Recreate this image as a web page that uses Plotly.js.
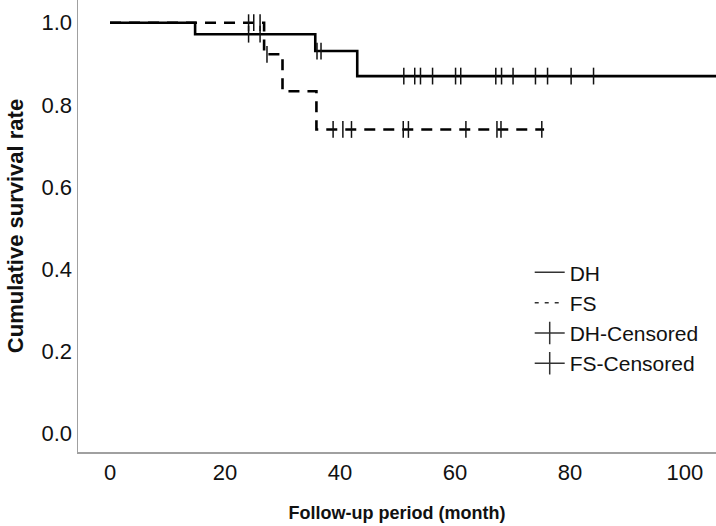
<!DOCTYPE html>
<html>
<head>
<meta charset="utf-8">
<script src="https://cdn.plot.ly/plotly-3.0.1.min.js"></script>
<style>html,body{margin:0;padding:0;background:#fff;}#chart{width:716px;height:526px;}</style>
</head>
<body>
<div id="chart"></div>
<script>
// Kaplan-Meier step data (time in months, cumulative survival)
var dhStepTime = [0, 14.8, 35.7, 43.0, 110];
var dhSurv     = [1.0, 0.972, 0.931, 0.870, 0.870];
var fsStepTime = [0, 26.8, 30.0, 35.9, 75.5];
var fsSurv     = [1.0, 0.923, 0.833, 0.740, 0.740];

// Censored observations
var dhCensTime = [24.1, 26.1, 36.0, 36.7, 51.1, 53.0, 54.0, 56.1, 60.1, 61.0, 67.1, 68.1, 70.1, 74.0, 76.1, 80.2, 84.1];
var dhCensSurv = [0.972, 0.972, 0.931, 0.931, 0.870, 0.870, 0.870, 0.870, 0.870, 0.870, 0.870, 0.870, 0.870, 0.870, 0.870, 0.870, 0.870];
var fsCensTime = [24.1, 25.0, 26.1, 27.3, 38.8, 40.5, 42.0, 51.0, 51.9, 61.9, 67.3, 68.0, 75.1];
var fsCensSurv = [1.0, 1.0, 1.0, 0.923, 0.740, 0.740, 0.740, 0.740, 0.740, 0.740, 0.740, 0.740, 0.740];

var legendNames = ['DH', 'FS', 'DH-Censored', 'FS-Censored'];
var xTicks = [0, 20, 40, 60, 80, 100];
var yTicks = [0.0, 0.2, 0.4, 0.6, 0.8, 1.0];

var FONT = 'Liberation Sans, Arial, Helvetica, sans-serif';

var traces = [
  {x: dhStepTime, y: dhSurv, mode: 'lines', line: {shape: 'hv', color: '#000', width: 2.6}, showlegend: false, hoverinfo: 'skip'},
  {x: fsStepTime, y: fsSurv, mode: 'lines', line: {shape: 'hv', color: '#000', width: 2.6, dash: '11px,8px'}, showlegend: false, hoverinfo: 'skip'},
  {x: dhCensTime, y: dhCensSurv, mode: 'markers', marker: {symbol: 'line-ns-open', size: 12, color: '#111', line: {color: '#111', width: 1.5}}, showlegend: false, hoverinfo: 'skip'},
  {x: fsCensTime, y: fsCensSurv, mode: 'markers', marker: {symbol: 'line-ns-open', size: 12, color: '#111', line: {color: '#111', width: 1.5}}, showlegend: false, hoverinfo: 'skip'},
  // legend entries
  {x: [null], y: [null], name: legendNames[0], mode: 'lines', line: {color: '#333', width: 1.5}},
  {x: [null], y: [null], name: legendNames[1], mode: 'lines', line: {color: '#333', width: 1.5, dash: '4px,6px'}},
  {x: [null], y: [null], name: legendNames[2], mode: 'lines+markers', line: {color: '#333', width: 1.5}, marker: {symbol: 'line-ns-open', size: 18, line: {color: '#333', width: 1.5}}},
  {x: [null], y: [null], name: legendNames[3], mode: 'lines+markers', line: {color: '#333', width: 1.5}, marker: {symbol: 'line-ns-open', size: 18, line: {color: '#333', width: 1.5}}}
];

var layout = {
  width: 716, height: 526,
  margin: {l: 78, r: 0, t: 0, b: 74, pad: 0},
  paper_bgcolor: '#fff', plot_bgcolor: '#fff',
  font: {family: FONT, color: '#111'},
  showlegend: true,
  legend: {x: 0.708, y: 0.442, xanchor: 'left', yanchor: 'top', font: {family: FONT, size: 21, color: '#111'}, bgcolor: 'rgba(0,0,0,0)', tracegroupgap: 0, itemwidth: 30},
  xaxis: {
    range: [-5.57, 105.4], tickvals: xTicks, ticktext: xTicks.map(String),
    showline: true, linecolor: '#a0a0a0', linewidth: 1.5, showgrid: false, zeroline: false, ticks: '',
    tickfont: {family: FONT, size: 22, color: '#111'},
    title: {text: 'Follow-up period (month)', font: {family: FONT, size: 18, weight: 'bold', color: '#111'}, standoff: 22}
  },
  yaxis: {
    range: [-0.0456, 1.0553], tickvals: yTicks, ticktext: yTicks.map(function(v){return v.toFixed(1);}),
    showline: true, linecolor: '#a0a0a0', linewidth: 1.5, showgrid: false, zeroline: false, ticks: '',
    tickfont: {family: FONT, size: 22, color: '#111'},
    title: {text: 'Cumulative survival rate', font: {family: FONT, size: 22, weight: 'bold', color: '#111'}, standoff: 12}
  }
};

Plotly.newPlot('chart', traces, layout, {staticPlot: true, displayModeBar: false});
</script>
</body>
</html>
